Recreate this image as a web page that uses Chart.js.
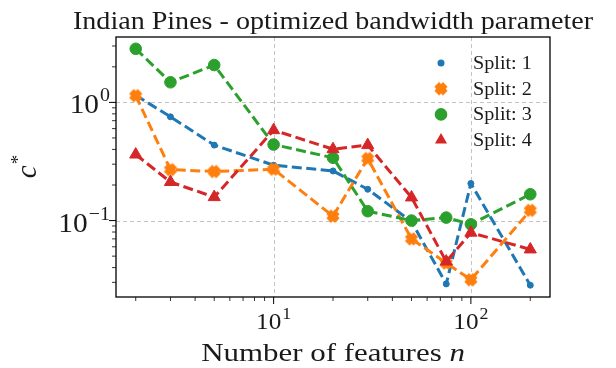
<!DOCTYPE html>
<html>
<head>
<meta charset="utf-8">
<script src="https://cdn.jsdelivr.net/npm/chart.js@4"></script>
<style>
  html, body { margin: 0; padding: 0; background: #ffffff; }
  #c { display: block; }
</style>
</head>
<body>
<canvas id="c" width="616" height="368" style="width:616px;height:368px"></canvas>
<script>
// Number of selected features (x) and the optimized bandwidth c* per split (y)
const features = [2, 3, 5, 10, 20, 30, 50, 75, 100, 200];
const split1 = [1.15, 0.755, 0.435, 0.294, 0.263, 0.184, 0.098, 0.0291, 0.206, 0.0284];
const split2 = [1.14, 0.270, 0.260, 0.272, 0.109, 0.335, 0.0700, 0.0437, 0.0316, 0.122];
const split3 = [2.84, 1.48, 2.07, 0.440, 0.340, 0.120, 0.100, 0.106, 0.093, 0.167];
const split4 = [0.362, 0.212, 0.158, 0.582, 0.402, 0.435, 0.157, 0.045, 0.079, 0.057];
const seriesLabels = ['Split: 1', 'Split: 2', 'Split: 3', 'Split: 4'];

// Decade ticks and their exponent labels
const xMajorTicks = [10, 100];
const xTickExponents = ['1', '2'];
const yMajorTicks = [0.1, 1];
const yTickExponents = ['\u22121', '0'];

const titleText = 'Indian Pines - optimized bandwidth parameter';
const xLabelText = 'Number of features ';
const xLabelVar = 'n';
const yLabelVar = 'c';
const yLabelSup = '*';

const SERIF = '"Liberation Serif", "DejaVu Serif", serif';
const COLORS = ['#1f77b4', '#ff7f0e', '#2ca02c', '#d62728'];
const TEXT = '#1a1a1a';

// log-space limits with a 5% margin on each side
function logLimits(values) {
  const lo = Math.log10(Math.min(...values));
  const hi = Math.log10(Math.max(...values));
  const m = (hi - lo) * 0.05;
  return [Math.pow(10, lo - m), Math.pow(10, hi + m)];
}
const [xMin, xMax] = logLimits(features);
const [yMin, yMax] = logLimits([].concat(split1, split2, split3, split4));

// filled "X" marker
function makeXMarker(color) {
  const cv = document.createElement('canvas');
  cv.width = 16; cv.height = 16;
  const g = cv.getContext('2d');
  const a = 3.3, L = 6.1;
  g.translate(8, 8);
  g.rotate(Math.PI / 4);
  g.beginPath();
  const pts = [[a, L], [a, a], [L, a], [L, -a], [a, -a], [a, -L], [-a, -L], [-a, -a], [-L, -a], [-L, a], [-a, a], [-a, L]];
  pts.forEach((p, i) => i ? g.lineTo(p[0], p[1]) : g.moveTo(p[0], p[1]));
  g.closePath();
  g.fillStyle = color;
  g.fill();
  return cv;
}
const xMarker = makeXMarker(COLORS[1]);

const pointStyles = ['circle', xMarker, 'circle', 'triangle'];
const pointRadii = [3, 7, 5.8, 7];

const seriesValues = [split1, split2, split3, split4];
const datasets = seriesValues.map((vals, i) => ({
  label: seriesLabels[i],
  data: features.map((f, j) => ({ x: f, y: vals[j] })),
  borderColor: COLORS[i],
  backgroundColor: COLORS[i],
  borderWidth: 3,
  borderDash: [10, 4.5],
  borderCapStyle: 'butt',
  borderJoinStyle: 'round',
  tension: 0,
  fill: false,
  pointStyle: pointStyles[i],
  pointRadius: pointRadii[i],
  pointBorderWidth: 1,
  pointBorderColor: COLORS[i],
  pointBackgroundColor: COLORS[i],
  order: 4 - i
}));

function minorTicks(lo, hi) {
  const out = [];
  for (let e = Math.floor(Math.log10(lo)) - 1; e <= Math.ceil(Math.log10(hi)); e++) {
    for (let k = 2; k <= 9; k++) {
      const v = k * Math.pow(10, e);
      if (v >= lo && v <= hi) out.push(v);
    }
  }
  return out;
}

// text drawn with a slight horizontal stretch (wider serif face)
function wideText(ctx, text, x, y, font, sx, align) {
  ctx.save();
  ctx.font = font;
  const w = ctx.measureText(text).width * sx;
  let x0 = x;
  if (align === 'center') x0 = x - w / 2;
  else if (align === 'right') x0 = x - w;
  ctx.translate(x0, y);
  ctx.scale(sx, 1);
  ctx.textAlign = 'left';
  ctx.textBaseline = 'alphabetic';
  ctx.fillText(text, 0, 0);
  ctx.restore();
  return w;
}
function textWidth(ctx, text, font, sx) {
  ctx.save(); ctx.font = font; const w = ctx.measureText(text).width * sx; ctx.restore(); return w;
}

function drawPow(ctx, base, exp, x, y, baseSize, expSize, rise, align) {
  const fb = baseSize + 'px ' + SERIF, fe = expSize + 'px ' + SERIF;
  const wb = textWidth(ctx, base, fb, 1.05);
  const we = textWidth(ctx, exp, fe, 1.05);
  const total = wb + we + 1;
  let x0 = x;
  if (align === 'right') x0 = x - total;
  else if (align === 'center') x0 = x - total / 2;
  wideText(ctx, base, x0, y, fb, 1.05, 'left');
  wideText(ctx, exp, x0 + wb + 1, y - rise, fe, 1.05, 'left');
}

function drawMarker(ctx, style, r, color, x, y) {
  ctx.save();
  ctx.fillStyle = color;
  if (style instanceof HTMLCanvasElement) {
    ctx.drawImage(style, x - style.width / 2, y - style.height / 2);
  } else if (style === 'triangle') {
    ctx.beginPath();
    let rad = 0;
    for (let k = 0; k < 3; k++) {
      const px = x + Math.sin(rad) * r, py = y - Math.cos(rad) * r;
      k ? ctx.lineTo(px, py) : ctx.moveTo(px, py);
      rad += 2 * Math.PI / 3;
    }
    ctx.closePath();
    ctx.fill();
  } else {
    ctx.beginPath();
    ctx.arc(x, y, r + 0.5, 0, Math.PI * 2);
    ctx.fill();
  }
  ctx.restore();
}

const decor = {
  id: 'decor',
  beforeDatasetsDraw(chart) {
    const { ctx, chartArea: ca, scales } = chart;
    ctx.save();
    ctx.strokeStyle = '#c4c4c4';
    ctx.lineWidth = 1;
    ctx.setLineDash([4, 3]);
    xMajorTicks.forEach(v => {
      const px = Math.round(scales.x.getPixelForValue(v)) + 0.5;
      ctx.beginPath(); ctx.moveTo(px, ca.top); ctx.lineTo(px, ca.bottom); ctx.stroke();
    });
    yMajorTicks.forEach(v => {
      const py = Math.round(scales.y.getPixelForValue(v)) + 0.5;
      ctx.beginPath(); ctx.moveTo(ca.left, py); ctx.lineTo(ca.right, py); ctx.stroke();
    });
    ctx.restore();
  },
  afterDatasetsDraw(chart) {
    const { ctx, chartArea: ca, scales } = chart;
    ctx.save();
    // frame
    ctx.strokeStyle = '#000';
    ctx.lineWidth = 1.3;
    ctx.strokeRect(ca.left, ca.top, ca.right - ca.left, ca.bottom - ca.top);

    // tick marks
    ctx.lineWidth = 1;
    const tick = (x1, y1, x2, y2) => { ctx.beginPath(); ctx.moveTo(x1, y1); ctx.lineTo(x2, y2); ctx.stroke(); };
    xMajorTicks.forEach(v => { const px = scales.x.getPixelForValue(v); tick(px, ca.bottom, px, ca.bottom + 7); });
    yMajorTicks.forEach(v => { const py = scales.y.getPixelForValue(v); tick(ca.left, py, ca.left - 7, py); });
    ctx.lineWidth = 0.8;
    minorTicks(xMin, xMax).forEach(v => { const px = scales.x.getPixelForValue(v); tick(px, ca.bottom, px, ca.bottom + 4); });
    minorTicks(yMin, yMax).forEach(v => { const py = scales.y.getPixelForValue(v); tick(ca.left, py, ca.left - 4, py); });

    // tick labels
    ctx.fillStyle = TEXT;
    xMajorTicks.forEach((v, i) => {
      const px = scales.x.getPixelForValue(v);
      drawPow(ctx, '10', xTickExponents[i], px, ca.bottom + 32, 24, 17, 10, 'center');
    });
    yMajorTicks.forEach((v, i) => {
      const py = scales.y.getPixelForValue(v);
      drawPow(ctx, '10', yTickExponents[i], ca.left - 6, py + 11, 28, 19, 12, 'right');
    });

    // title
    const cx = (ca.left + ca.right) / 2;
    wideText(ctx, titleText, cx, 29, '26px ' + SERIF, 1.08, 'center');

    // x label with italic variable
    const fN = '26px ' + SERIF, fI = 'italic 26px ' + SERIF, sxl = 1.19;
    const w1 = textWidth(ctx, xLabelText, fN, sxl);
    const w2 = textWidth(ctx, xLabelVar, fI, sxl);
    const x0 = cx - (w1 + w2) / 2;
    wideText(ctx, xLabelText, x0, 361, fN, sxl, 'left');
    wideText(ctx, xLabelVar, x0 + w1, 361, fI, sxl, 'left');

    // y label: c* rotated
    ctx.save();
    ctx.translate(36, (ca.top + ca.bottom) / 2);
    ctx.rotate(-Math.PI / 2);
    ctx.font = 'italic 29px ' + SERIF;
    const wc = ctx.measureText(yLabelVar).width;
    ctx.font = '19px ' + SERIF;
    const ws = ctx.measureText(yLabelSup).width;
    const sx = -(wc + ws) / 2;
    ctx.textAlign = 'left';
    ctx.textBaseline = 'alphabetic';
    ctx.font = 'italic 29px ' + SERIF;
    ctx.fillText(yLabelVar, sx, 0);
    ctx.font = '19px ' + SERIF;
    ctx.fillText(yLabelSup, sx + wc + 1, -12);
    ctx.restore();

    // legend (markers only)
    chart.data.datasets.forEach((ds, i) => {
      const ly = 63 + i * 25.7;
      drawMarker(ctx, ds.pointStyle, ds.pointRadius, ds.borderColor, 441, ly);
      ctx.fillStyle = TEXT;
      wideText(ctx, ds.label, 473, ly + 6, '18px ' + SERIF, 1.12, 'left');
    });
    ctx.restore();
  }
};

new Chart(document.getElementById('c'), {
  type: 'line',
  data: { datasets },
  options: {
    responsive: false,
    animation: false,
    devicePixelRatio: 1,
    layout: { padding: { left: 0, right: 66, top: 37, bottom: 0 } },
    plugins: { legend: { display: false }, tooltip: { enabled: false }, title: { display: false } },
    scales: {
      x: {
        type: 'logarithmic', min: xMin, max: xMax,
        ticks: { display: false }, grid: { display: false }, border: { display: false },
        afterFit(s) { s.height = 71; }
      },
      y: {
        type: 'logarithmic', min: yMin, max: yMax,
        ticks: { display: false }, grid: { display: false }, border: { display: false },
        afterFit(s) { s.width = 116; }
      }
    }
  },
  plugins: [decor]
});
</script>
</body>
</html>
